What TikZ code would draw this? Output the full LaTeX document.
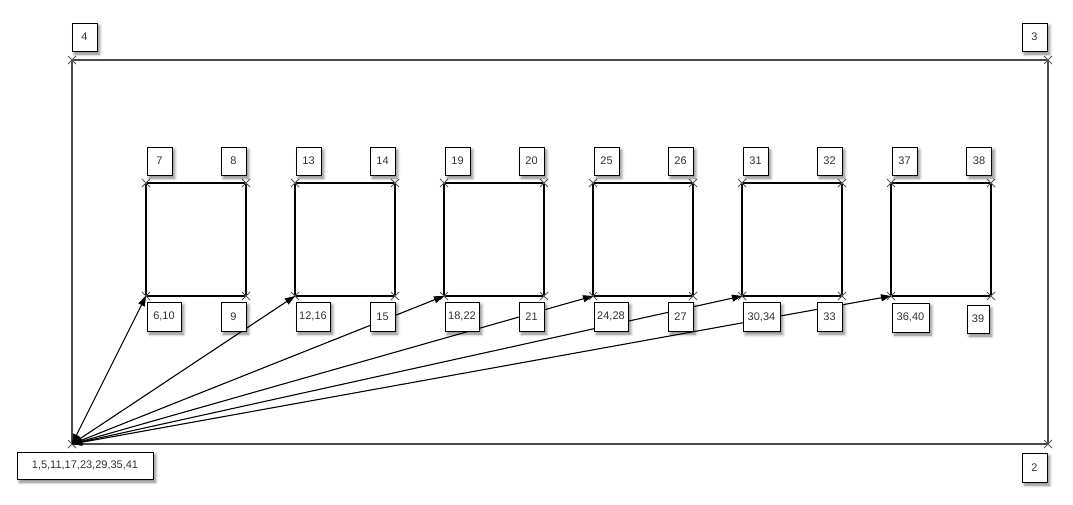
\documentclass[tikz,border=0pt]{standalone}
\usepackage{fontspec}
\setmainfont{Liberation Sans}
\usetikzlibrary{arrows.meta,shadows.blur}
\definecolor{tagtext}{HTML}{333333}
\definecolor{framegray}{HTML}{4A4A4A}
\definecolor{crossgray}{HTML}{555555}
\begin{document}
\begin{tikzpicture}[x=1pt,y=-1pt,
  tag/.style={draw=black, line width=1pt, fill=white, text=tagtext,
    font=\fontsize{11}{13}\selectfont, inner sep=0pt,
    minimum width=25pt, minimum height=28pt,
    blur shadow={shadow xshift=2.5pt, shadow yshift=-3pt,
      shadow blur radius=3pt, shadow opacity=50}},
  widetag/.style={tag, minimum width=34pt, minimum height=29pt},
  outerframe/.style={draw=framegray, line width=1.2pt},
  panel/.style={draw=black, line width=1.2pt},
  link/.style={draw=black, line width=1.1pt,
    {Triangle[length=10pt,width=7pt]}-{Triangle[length=10pt,width=7pt]}},
  cross/.pic={\draw[crossgray, line width=0.8pt] (-4,-4) -- (4,4) (-4,4) -- (4,-4);}
]
\useasboundingbox (0,0) rectangle (1073,504);

% outer frame and its corner points
\draw[outerframe] (72,60) rectangle (1048,444);
\coordinate (hub) at (72,444);
\foreach \p in {(72,60),(1048,60),(1048,444),(72,444)}
  \pic at \p {cross};

% six inner panels
\foreach \k in {1,...,6} {
  \pgfmathsetmacro\L{146+149*(\k-1)}
  \draw[panel] (\L,183) rectangle ++(100,113);
  \coordinate (sq\k) at (\L,296);
  \pic at (\L,183) {cross};
  \pic at (\L+100,183) {cross};
  \pic at (\L,296) {cross};
  \pic at (\L+100,296) {cross};
}

% connectors from the common corner to each panel
\foreach \k in {1,...,6}
  \draw[link] (hub) -- (sq\k);

% corner labels of the outer frame
\node[tag] (n4) at (84.5,37) {4};
\node[tag] (n3) at (1034.5,37) {3};
\node[tag, minimum height=29pt] (n2) at (1034.5,467.5) {2};
\node[tag, minimum width=136pt, minimum height=27pt] (n1) at (85,465.5) {1,5,11,17,23,29,35,41};

% panel 1
\node[tag] (n7) at (159.5,161) {7};
\node[tag] (n8) at (233.5,161) {8};
\node[widetag] (n6) at (164,316.5) {6,10};
\node[tag, minimum height=29pt] (n9) at (233.5,316.5) {9};
% panel 2
\node[tag] (n13) at (308.5,161) {13};
\node[tag] (n14) at (382.5,161) {14};
\node[widetag] (n12) at (313,316.5) {12,16};
\node[tag, minimum height=29pt] (n15) at (382.5,316.5) {15};
% panel 3
\node[tag] (n19) at (457.5,161) {19};
\node[tag] (n20) at (531.5,161) {20};
\node[widetag] (n18) at (462,316.5) {18,22};
\node[tag, minimum height=29pt] (n21) at (531.5,316.5) {21};
% panel 4
\node[tag] (n25) at (606.5,161) {25};
\node[tag] (n26) at (680.5,161) {26};
\node[widetag] (n24) at (611,316.5) {24,28};
\node[tag, minimum height=29pt] (n27) at (680.5,316.5) {27};
% panel 5
\node[tag] (n31) at (755.5,161) {31};
\node[tag] (n32) at (829.5,161) {32};
\node[widetag, minimum width=37pt] (n30) at (761.5,317) {30,34};
\node[tag, minimum height=29pt] (n33) at (829.5,316.5) {33};
% panel 6
\node[tag] (n37) at (904.5,161) {37};
\node[tag] (n38) at (979,161) {38};
\node[widetag, minimum width=37pt] (n36) at (910.5,317.5) {36,40};
\node[tag, minimum width=22pt] (n39) at (978,319) {39};
\end{tikzpicture}
\end{document}
